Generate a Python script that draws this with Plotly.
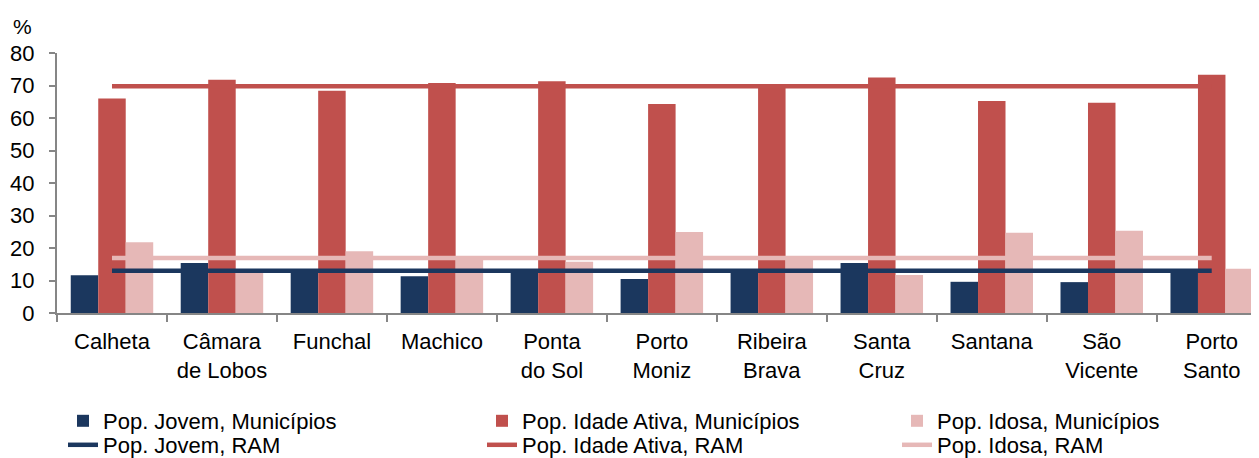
import plotly.graph_objects as go

categories = ["Calheta", "Câmara de Lobos", "Funchal", "Machico", "Ponta do Sol",
              "Porto Moniz", "Ribeira Brava", "Santa Cruz", "Santana", "São Vicente", "Porto Santo"]
tick_labels = ["Calheta", "Câmara<br>de Lobos", "Funchal", "Machico", "Ponta<br>do Sol",
               "Porto<br>Moniz", "Ribeira<br>Brava", "Santa<br>Cruz", "Santana", "São<br>Vicente", "Porto<br>Santo"]

jovem_mun = [11.6, 15.4, 12.3, 11.3, 12.3, 10.5, 13.4, 15.4, 9.6, 9.5, 13.4]
ativa_mun = [66.0, 71.8, 68.4, 70.8, 71.3, 64.3, 70.0, 72.5, 65.2, 64.7, 73.3]
idosa_mun = [21.8, 12.5, 19.0, 17.5, 15.8, 24.9, 17.4, 11.7, 24.7, 25.3, 13.6]

jovem_ram = 13.0
ativa_ram = 69.8
idosa_ram = 16.9

c_jovem = "#1B375E"
c_ativa = "#C0504D"
c_idosa = "#E6B8B7"

FONT = "Liberation Sans, Arial, sans-serif"

fig = go.Figure()
fig.add_trace(go.Bar(x=categories, y=jovem_mun, name="Pop. Jovem, Municípios",
                     marker=dict(color=c_jovem, line=dict(width=0)), legend="legend"))
fig.add_trace(go.Bar(x=categories, y=ativa_mun, name="Pop. Idade Ativa, Municípios",
                     marker=dict(color=c_ativa, line=dict(width=0)), legend="legend2"))
fig.add_trace(go.Bar(x=categories, y=idosa_mun, name="Pop. Idosa, Municípios",
                     marker=dict(color=c_idosa, line=dict(width=0)), legend="legend3"))

fig.add_trace(go.Scatter(x=categories, y=[ativa_ram] * len(categories), mode="lines",
                         name="Pop. Idade Ativa, RAM", line=dict(color=c_ativa, width=4.5),
                         legend="legend5"))
fig.add_trace(go.Scatter(x=categories, y=[idosa_ram] * len(categories), mode="lines",
                         name="Pop. Idosa, RAM", line=dict(color=c_idosa, width=4.5),
                         legend="legend6"))
fig.add_trace(go.Scatter(x=categories, y=[jovem_ram] * len(categories), mode="lines",
                         name="Pop. Jovem, RAM", line=dict(color=c_jovem, width=4.5),
                         legend="legend4"))

# The page adds an 8px body margin; figure sized so the plot runs to the window edge.
OFF = 8
W, H = 1251, 450
L, T, B = 49, 45, 145
PW, PH = W - L, H - T - B


def px_x(page_px):
    return (page_px - OFF - L) / PW


def px_y(page_py):
    return (H - B - (page_py - OFF)) / PH


leg_common = dict(orientation="v", xanchor="left", yanchor="middle",
                  font=dict(family=FONT, size=22, color="#000"),
                  bgcolor="rgba(0,0,0,0)", borderwidth=0, tracegroupgap=0,
                  traceorder="normal")

col_x = [63, 482, 897]
row_y = [421, 445]

legends = {}
names = ["legend", "legend2", "legend3", "legend4", "legend5", "legend6"]
for i, nm in enumerate(names):
    legends[nm] = dict(x=px_x(col_x[i % 3]), y=px_y(row_y[i // 3]), **leg_common)

fig.update_layout(
    width=W, height=H,
    margin=dict(l=L, r=0, t=T, b=B, autoexpand=False),
    paper_bgcolor="white", plot_bgcolor="white",
    barmode="group", bargap=0.25, bargroupgap=0,
    font=dict(family=FONT, size=22, color="#000"),
    showlegend=True,
    **legends,
    xaxis=dict(
        tickmode="array", tickvals=categories, ticktext=tick_labels,
        range=[-0.5, 10.43], showgrid=False, zeroline=False,
        showline=True, linecolor="#868686", linewidth=2,
        ticks="outside", tickson="boundaries", ticklen=7, tickwidth=2, tickcolor="#868686",
        tickfont=dict(family=FONT, size=22, color="#000"),
        ticklabelstandoff=8,
    ),
    yaxis=dict(
        range=[0, 80], dtick=10, showgrid=False, zeroline=False,
        showline=True, linecolor="#868686", linewidth=2,
        ticks="outside", ticklen=6, tickwidth=2, tickcolor="#868686",
        tickfont=dict(family=FONT, size=22, color="#000"),
        ticklabelstandoff=10,
    ),
    annotations=[dict(text="%", xref="paper", yref="paper", x=0, y=1, xshift=-46, yshift=13,
                      xanchor="left", yanchor="bottom", showarrow=False,
                      font=dict(family=FONT, size=21, color="#000"))],
)

fig.write_html("out.html")
